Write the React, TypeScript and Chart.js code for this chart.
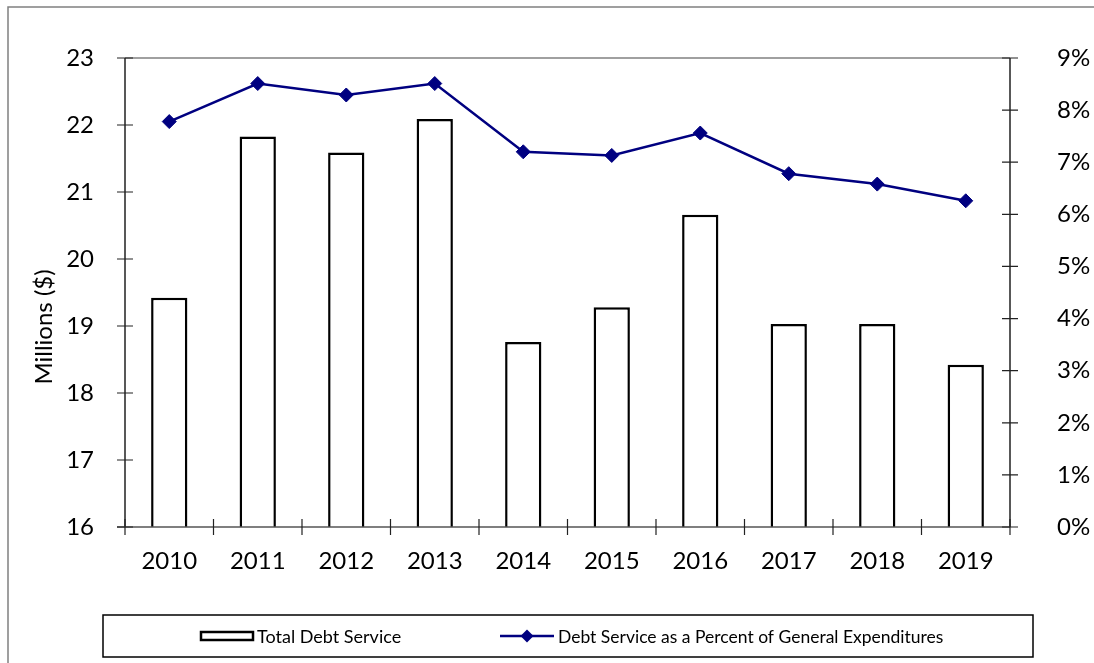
import React, { useEffect, useRef } from "react";
import { Chart, registerables } from "chart.js";

Chart.register(...registerables);

const years = ["2010", "2011", "2012", "2013", "2014", "2015", "2016", "2017", "2018", "2019"];
const totalDebtService = [19.42, 21.83, 21.59, 22.09, 18.76, 19.28, 20.66, 19.03, 19.03, 18.42];
const percentOfExpenditures = [7.78, 8.51, 8.29, 8.51, 7.2, 7.13, 7.56, 6.78, 6.58, 6.26];
const leftTicks = [16, 17, 18, 19, 20, 21, 22, 23];
const rightTicks = [0, 1, 2, 3, 4, 5, 6, 7, 8, 9];
const barLabel = "Total Debt Service";
const lineLabel = "Debt Service as a Percent of General Expenditures";
const yTitle = "Millions ($)";

const FONT = "Lato, 'Open Sans', sans-serif";
const NAVY = "#000080";

const decorPlugin = {
  id: "decor",
  beforeDraw(chart: any) {
    const ctx = chart.ctx;
    ctx.save();
    ctx.strokeStyle = "#808080";
    ctx.lineWidth = 1.5;
    ctx.beginPath();
    ctx.moveTo(8, chart.height);
    ctx.lineTo(8, 7);
    ctx.lineTo(chart.width, 7);
    ctx.stroke();
    ctx.restore();
  },
  afterDraw(chart: any) {
    const ctx = chart.ctx;
    const area = chart.chartArea;
    const x = chart.scales.x;
    const y = chart.scales.y;
    const y1 = chart.scales.y1;
    ctx.save();
    ctx.strokeStyle = "#a0a0a0";
    ctx.lineWidth = 2;
    ctx.beginPath();
    ctx.moveTo(area.left, area.top);
    ctx.lineTo(area.right, area.top);
    ctx.stroke();
    ctx.strokeStyle = "#222";
    ctx.lineWidth = 1.5;
    ctx.beginPath();
    ctx.moveTo(area.left, area.top);
    ctx.lineTo(area.left, area.bottom);
    ctx.moveTo(area.right, area.top);
    ctx.lineTo(area.right, area.bottom);
    ctx.stroke();
    ctx.strokeStyle = "#555";
    ctx.beginPath();
    ctx.moveTo(area.left - 8, area.bottom);
    ctx.lineTo(area.right, area.bottom);
    ctx.stroke();
    ctx.strokeStyle = "#222";
    ctx.lineWidth = 1.2;
    ctx.beginPath();
    leftTicks.forEach((v) => {
      const p = y.getPixelForValue(v);
      ctx.moveTo(area.left - 8, p);
      ctx.lineTo(area.left + 8, p);
    });
    rightTicks.forEach((v) => {
      const p = y1.getPixelForValue(v);
      ctx.moveTo(area.right - 8, p);
      ctx.lineTo(area.right + 8, p);
    });
    for (let i = 0; i <= years.length; i++) {
      const p = x.getPixelForValue(i - 0.5);
      ctx.moveTo(p, area.bottom - 8);
      ctx.lineTo(p, area.bottom + 8);
    }
    ctx.stroke();

    ctx.fillStyle = "#000";
    ctx.font = `24px ${FONT}`;
    ctx.textAlign = "center";
    ctx.textBaseline = "middle";
    ctx.translate(44, 327);
    ctx.rotate(-Math.PI / 2);
    ctx.fillText(yTitle, 0, 0);
    ctx.restore();

    ctx.save();
    const lx = 103, ly = 615, lw = 930, lh = 42;
    ctx.strokeStyle = "#000";
    ctx.lineWidth = 1.5;
    ctx.strokeRect(lx, ly, lw, lh);
    const cy = ly + lh / 2;
    ctx.lineWidth = 2.5;
    ctx.strokeRect(201, cy - 4, 52, 8);
    ctx.fillStyle = "#000";
    ctx.font = `18px ${FONT}`;
    ctx.textAlign = "left";
    ctx.textBaseline = "middle";
    ctx.fillText(chart.data.datasets[0].label, 257, cy + 1);
    ctx.strokeStyle = NAVY;
    ctx.lineWidth = 2.5;
    ctx.beginPath();
    ctx.moveTo(500, cy);
    ctx.lineTo(554, cy);
    ctx.stroke();
    ctx.fillStyle = NAVY;
    ctx.beginPath();
    ctx.moveTo(527 - 6.5, cy);
    ctx.lineTo(527, cy - 6.5);
    ctx.lineTo(527 + 6.5, cy);
    ctx.lineTo(527, cy + 6.5);
    ctx.closePath();
    ctx.fill();
    ctx.fillStyle = "#000";
    ctx.font = `17.5px ${FONT}`;
    ctx.fillText(chart.data.datasets[1].label, 558, cy + 1);
    ctx.restore();
  },
};

export default function App() {
  const ref = useRef<HTMLCanvasElement>(null);
  useEffect(() => {
    if (!ref.current) return;
    const chart = new Chart(ref.current, {
      type: "bar",
      data: {
        labels: years,
        datasets: [
          {
            type: "bar",
            label: barLabel,
            data: totalDebtService,
            backgroundColor: "#ffffff",
            borderColor: "#000000",
            borderWidth: 2.5,
            barPercentage: 0.41,
            categoryPercentage: 1,
            yAxisID: "y",
            order: 2,
          },
          {
            type: "line",
            label: lineLabel,
            data: percentOfExpenditures,
            borderColor: NAVY,
            backgroundColor: NAVY,
            borderWidth: 2.5,
            pointStyle: "rectRot",
            pointRadius: 7,
            pointBorderWidth: 1,
            pointBackgroundColor: NAVY,
            pointBorderColor: NAVY,
            yAxisID: "y1",
            order: 1,
          } as any,
        ],
      },
      options: {
        animation: false,
        responsive: false,
        maintainAspectRatio: false,
        layout: { padding: { left: 0, right: 0, top: 58, bottom: 86 } },
        plugins: {
          legend: { display: false },
          tooltip: { enabled: false },
        },
        scales: {
          x: {
            type: "category",
            offset: true,
            grid: { display: false },
            border: { display: false },
            ticks: { color: "#000", font: { family: FONT, size: 24 }, padding: 12 },
            afterFit: (s: any) => { s.height = 50; },
          },
          y: {
            type: "linear",
            position: "left",
            min: 16,
            max: 23,
            grid: { display: false },
            border: { display: false },
            ticks: { stepSize: 1, color: "#000", font: { family: FONT, size: 24 }, padding: 23 },
            afterFit: (s: any) => { s.width = 125; },
          },
          y1: {
            type: "linear",
            position: "right",
            min: 0,
            max: 9,
            grid: { display: false },
            border: { display: false },
            ticks: {
              stepSize: 1,
              color: "#000",
              font: { family: FONT, size: 24 },
              padding: 39,
              callback: (v: any) => `${v}%`,
            },
            afterFit: (s: any) => { s.width = 84; },
          },
        },
      },
      plugins: [decorPlugin],
    });
    return () => chart.destroy();
  }, []);
  return (
    <div style={{ position: "fixed", left: 0, top: 0, width: 1094, height: 663, background: "#fff" }}>
      <canvas ref={ref} width={1094} height={663} style={{ display: "block" }} />
    </div>
  );
}
